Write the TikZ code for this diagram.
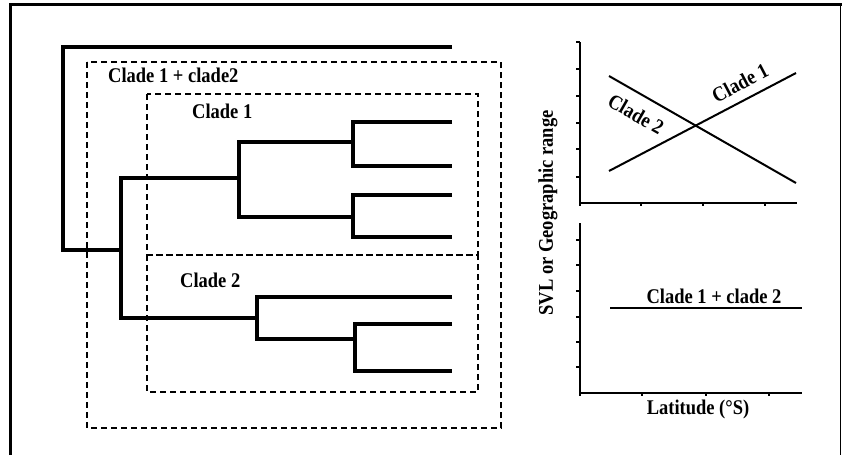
\documentclass[tikz,border=0pt]{standalone}
\usepackage{graphicx}
\usepackage{fontspec}
\setmainfont{Liberation Serif}
\newcommand{\tallt}[1]{\scalebox{1}[1.13]{#1}}
\begin{document}
\begin{tikzpicture}[x=1pt,y=-1pt,
  branch/.style={line width=4pt, line join=miter},
  dbox/.style={line width=1.4pt, dash pattern=on 6pt off 4pt},
  lbl/.style={font=\bfseries\fontsize{18.5}{20}\selectfont, inner sep=0pt},
  axisline/.style={line width=2pt},
  tickline/.style={line width=2pt},
  dataline/.style={line width=2pt}]
\useasboundingbox (0,0) rectangle (842,455);
% frame
\draw[line width=3pt] (10.5,455) -- (10.5,4) -- (842,4);
\draw[line width=1.5pt] (840.5,4) -- (840.5,455);

% tree coordinates
\coordinate (L0) at (452,47);
\coordinate (r) at (63,150);
\coordinate (j4) at (121,250);
\coordinate (j2) at (239,178);
\coordinate (j1) at (353,142);
\coordinate (j3) at (353,217);
\coordinate (L1) at (452,122);
\coordinate (L2) at (452,166);
\coordinate (L3) at (452,195);
\coordinate (L4) at (452,237);
\coordinate (j5) at (257,318);
\coordinate (L5) at (452,297);
\coordinate (j6) at (355,339);
\coordinate (L6) at (452,324);
\coordinate (L7) at (452,371);

\draw[branch] (L0) -| (r) |- (j4);
\draw[branch] (j2) -| (j4) |- (j5);
\draw[branch] (j1) -| (j2) |- (j3);
\draw[branch] (L1) -| (j1) |- (L2);
\draw[branch] (L3) -| (j3) |- (L4);
\draw[branch] (L5) -| (j5) |- (j6);
\draw[branch] (L6) -| (j6) |- (L7);

% dashed boxes
\draw[dbox] (87,62) rectangle (501,428);
\draw[dbox] (147,94) rectangle (478,255);
\draw[dbox] (147,255) rectangle (478,392);
\node[lbl, anchor=base west] (tboth) at (108,82) {\tallt{Clade 1 + clade2}};
\node[lbl, anchor=base west] (tc1) at (192,118) {\tallt{Clade 1}};
\node[lbl, anchor=base west] (tc2) at (180,287) {\tallt{Clade 2}};

% upper plot
\coordinate (ua) at (580,42);
\coordinate (uo) at (580,203);
\coordinate (ux) at (797,203);
\draw[axisline] (ua) -- (uo) -- (ux);
\foreach \yy in {42,69,96,123,149,177} \draw[tickline] (576,\yy) -- (580,\yy);
\foreach \xx in {580,641,703,765} \draw[tickline] (\xx,203) -- (\xx,206);
\coordinate (c2a) at (609,76);
\coordinate (c2b) at (796,183);
\coordinate (c1a) at (609,171);
\coordinate (c1b) at (796,73);
\draw[dataline] (c2a) -- (c2b);
\draw[dataline] (c1a) -- (c1b);
\node[lbl, rotate=27.7] (pc1) at (740,83) {\tallt{Clade 1}};
\node[lbl, rotate=-29.8] (pc2) at (636,114) {\tallt{Clade 2}};

% lower plot
\coordinate (la) at (580,223);
\coordinate (lo) at (580,393);
\coordinate (lx) at (802,393);
\draw[axisline] (la) -- (lo) -- (lx);
\foreach \yy in {240,265,291,317,342,367} \draw[tickline] (576,\yy) -- (580,\yy);
\foreach \xx in {580,642,706,769} \draw[tickline] (\xx,393) -- (\xx,396);
\coordinate (ha) at (610,308);
\coordinate (hb) at (802,308);
\draw[dataline] (ha) -- (hb);
\node[lbl] (pboth) at (714,296) {\tallt{Clade 1 + clade 2}};
\node[lbl] (xlab) at (698,409) {\tallt{Latitude (°S)}};
\node[lbl, rotate=90] (ylab) at (548,213) {\tallt{SVL or Geographic range}};
\end{tikzpicture}
\end{document}
